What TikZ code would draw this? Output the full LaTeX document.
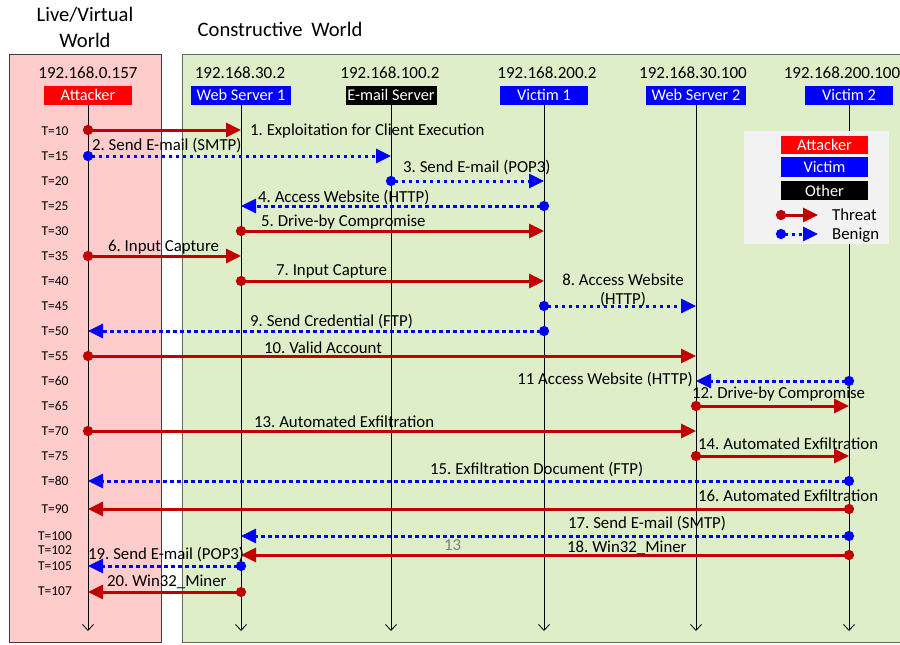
\documentclass[tikz,border=0pt]{standalone}
\usepackage{fontspec}
\setmainfont{Carlito}
\usetikzlibrary{arrows.meta}
\definecolor{thr}{RGB}{192,0,0}
\definecolor{ben}{RGB}{0,0,255}
\definecolor{pinkbg}{RGB}{255,204,204}
\definecolor{greenbg}{RGB}{221,238,200}
\definecolor{leggrey}{RGB}{242,242,242}
\definecolor{boxline}{RGB}{60,60,60}
\begin{document}
\begin{tikzpicture}[x=1pt,y=-1pt,
  threat/.style={draw=thr, line width=3pt, shorten <=-5pt,
     {Circle[length=10pt,width=10pt]}-{Triangle[length=15pt,width=14pt]}},
  benign/.style={draw=ben, line width=3pt, dash pattern=on 3.5pt off 3.5pt, shorten <=-5pt,
     {Circle[length=10pt,width=10pt]}-{Triangle[length=15pt,width=14pt]}},
  role/.style={fill=#1, text=white, minimum width=88pt, minimum height=19pt, inner sep=0pt, font=\fontsize{16.3}{18}\selectfont},
  ip/.style={font=\fontsize{17}{19}\selectfont, inner sep=0pt},
  tlab/.style={font=\fontsize{13.5}{14}\selectfont, inner sep=0pt},
  mlab/.style={font=\fontsize{16.8}{18.5}\selectfont, inner sep=0pt, anchor=west},
  title/.style={font=\fontsize{20.6}{23}\selectfont, inner sep=0pt},
  life/.style={draw=black, line width=0.8pt, -{Straight Barb[length=6pt,width=11pt]}}
]
\useasboundingbox (0,0) rectangle (900,645);
% world boxes
\fill[pinkbg] (9,54) rectangle (161,642);
\draw[boxline, line width=1pt] (9,54) rectangle (161,642);
\fill[greenbg] (182,54) rectangle (905,642);
\draw[gray!80!black, line width=1pt] (182,54) rectangle (905,642);
% titles
\node[title] (tl1) at (85,15) {Live/Virtual};
\node[title] (tl2) at (85,40) {World};
\node[title] (tc) at (280,29) {Constructive\hspace{4pt} World};
% ip labels
\node[ip] (ipA) at (88,73) {192.168.0.157};
\node[ip] (ipW1) at (240,73) {192.168.30.2};
\node[ip] (ipE) at (390,73) {192.168.100.2};
\node[ip] (ipV1) at (547,73) {192.168.200.2};
\node[ip] (ipW2) at (693,73) {192.168.30.100};
\node[ip] (ipV2) at (842,73) {192.168.200.100};
% role boxes
\node[role=red] (hA) at (88,95) {Attacker};
\node[role=blue, minimum width=100pt] (hW1) at (241,95) {Web Server 1};
\node[role=black, minimum width=91pt] (hE) at (391,95) {E-mail Server};
\node[role=blue] (hV1) at (544,95) {Victim 1};
\node[role=blue, minimum width=100pt] (hW2) at (696,95) {Web Server 2};
\node[role=blue] (hV2) at (849,95) {Victim 2};
% lifeline ends
\coordinate (bot) at (0,631);
\foreach \n in {A,W1,E,V1,W2,V2} \draw[life] (h\n.south) -- (h\n |- bot);
% legend
\fill[leggrey] (744,131) rectangle (889,244);
\node[role=red, minimum width=87pt, minimum height=18pt] (lgA) at (824.5,145) {Attacker};
\node[role=blue, minimum width=87pt, minimum height=20pt] (lgV) at (824.5,167) {Victim};
\node[role=black, minimum width=87pt, minimum height=19pt] (lgO) at (824.5,190.5) {Other};
\coordinate (lt1) at (781,215); \coordinate (lt2) at (818,215);
\coordinate (lb1) at (781,234); \coordinate (lb2) at (818,234);
\draw[threat] (lt1) -- (lt2);
\draw[benign] (lb1) -- (lb2);
\node[mlab] (lgT) at (832,215) {Threat};
\node[mlab] (lgB) at (832,235) {Benign};
% time labels
\foreach \t/\y in {10/131,15/156,20/181,25/206,30/231,35/256,40/281,45/306,50/331,55/356,60/381,65/406,70/431,75/456,80/481,90/509,100/536,102/550,105/566,107/591}
  \node[tlab] (t\t) at (55,\y) {T=\t};
% messages
\foreach \i/\f/\t/\y/\s in {1/A/W1/130/threat, 2/A/E/156/benign, 3/E/V1/181/benign, 4/V1/W1/206/benign,
  5/W1/V1/231/threat, 6/A/W1/256/threat, 7/W1/V1/281/threat, 8/V1/W2/306/benign, 9/V1/A/331/benign,
  10/A/W2/356/threat, 11/V2/W2/381/benign, 12/W2/V2/406/threat, 13/A/W2/431/threat, 14/W2/V2/456/threat,
  15/V2/A/481/benign, 16/V2/A/509/threat, 17/V2/W1/536/benign, 18/V2/W1/555/threat, 19/W1/A/566/benign,
  20/W1/A/592/threat}
{
  \coordinate (r\i) at (0,\y);
  \draw[\s] (h\f |- r\i) -- (h\t |- r\i);
}
% message labels
\node[mlab] (m1) at (250,131) {1.\ Exploitation for Client Execution};
\node[mlab] (m2) at (92,146) {2.\ Send E-mail (SMTP)};
\node[mlab] (m3) at (403,168) {3.\ Send E-mail (POP3)};
\node[mlab] (m4) at (258,198) {4.\ Access Website (HTTP)};
\node[mlab] (m5) at (261,222) {5.\ Drive-by Compromise};
\node[mlab] (m6) at (108,247) {6.\ Input Capture};
\node[mlab] (m7) at (276,271) {7.\ Input Capture};
\node[mlab, anchor=center, align=center] (m8) at (623,290.5) {8.\ Access Website\\(HTTP)};
\node[mlab] (m9) at (250,322) {9.\ Send Credential (FTP)};
\node[mlab] (m10) at (264,348) {10.\ Valid Account};
\node[mlab, anchor=east] (m11) at (693,380) {11 Access Website (HTTP)};
\node[mlab] (m12) at (692,394) {12.\ Drive-by Compromise};
\node[mlab] (m13) at (254,422) {13.\ Automated Exfiltration};
\node[mlab] (m14) at (698,444) {14.\ Automated Exfiltration};
\node[mlab] (m15) at (430,470) {15.\ Exfiltration Document (FTP)};
\node[mlab] (m16) at (698,496) {16.\ Automated Exfiltration};
\node[mlab] (m17) at (568,524) {17.\ Send E-mail (SMTP)};
\node[mlab] (m18) at (567,548) {18.\ Win32\_Miner};
\node[mlab, text=gray] (g13) at (444,545) {13};
\node[mlab] (m19) at (88,555) {19.\ Send E-mail (POP3)};
\node[mlab] (m20) at (107,582) {20.\ Win32\_Miner};
\end{tikzpicture}
\end{document}
